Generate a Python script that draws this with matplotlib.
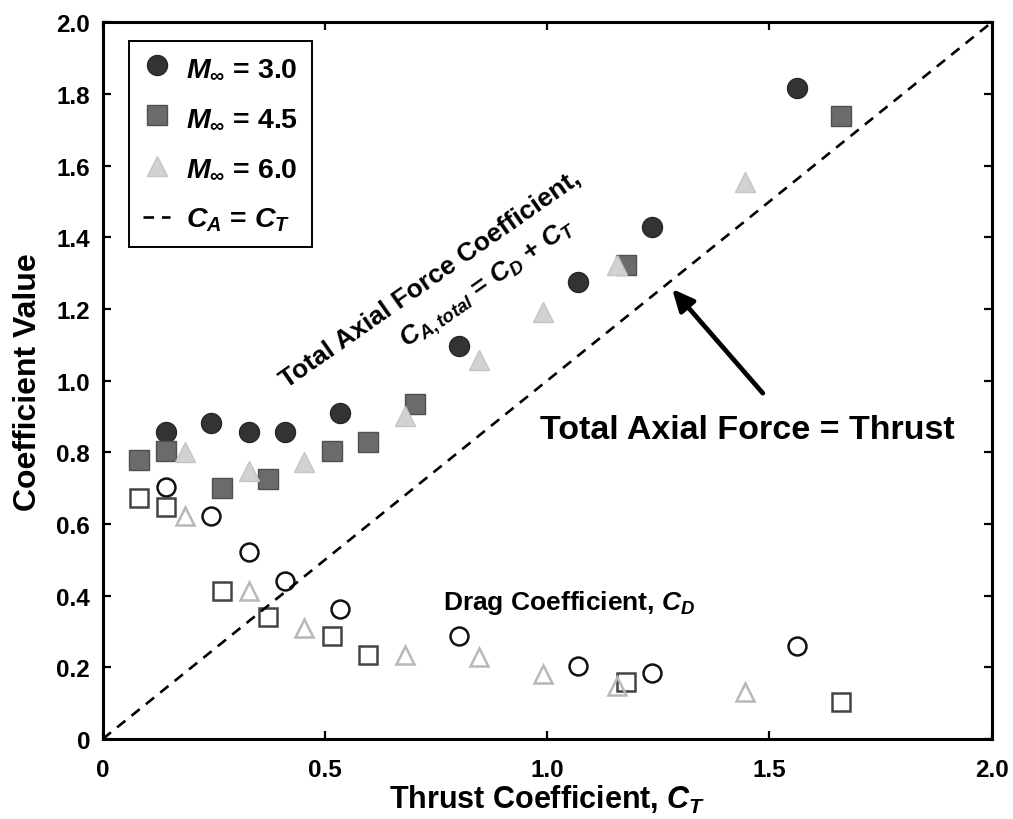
'''
Axial force / drag coefficient versus thrust coefficient
three free stream Mach numbers, filled = total axial force, open = drag
'''
import numpy as np
import matplotlib
matplotlib.use("Agg")
import matplotlib.pyplot as plt

# ---------------- data ----------------
ct_m30   =  [0.142, 0.244, 0.328, 0.410, 0.534, 0.802, 1.070, 1.236, 1.562]
ca_m30   =  [0.856, 0.882, 0.856, 0.856, 0.910, 1.098, 1.275, 1.428, 1.817]
cd_m30   =  [0.703, 0.623, 0.521, 0.442, 0.364, 0.286, 0.205, 0.183, 0.260]

ct_m45   =  [0.082, 0.142, 0.268, 0.371, 0.515, 0.597, 0.703, 1.177, 1.660]
ca_m45   =  [0.779, 0.803, 0.700, 0.726, 0.805, 0.830, 0.935, 1.324, 1.739]
cd_m45   =  [0.673, 0.648, 0.414, 0.340, 0.286, 0.233, np.nan, 0.158, 0.103]

ct_m60   =  [0.185, 0.328, 0.452, 0.679, 0.847, 0.991, 1.156, 1.445]
ca_m60   =  [0.800, 0.749, 0.774, 0.902, 1.058, 1.191, 1.324, 1.555]
cd_m60   =  [0.622, 0.412, 0.309, 0.233, 0.228, 0.181, 0.149, 0.131]

line_ct  =  [0.0, 2.0]

xticks   =  [0, 0.5, 1.0, 1.5, 2.0]
xlabels  =  ['0', '0.5', '1.0', '1.5', '2.0']
yticks   =  [0, 0.2, 0.4, 0.6, 0.8, 1.0, 1.2, 1.4, 1.6, 1.8, 2.0]
ylabels  =  ['0', '0.2', '0.4', '0.6', '0.8', '1.0', '1.2', '1.4', '1.6', '1.8', '2.0']

legend_labels  =  [r'$M_{\infty}$ = 3.0', r'$M_{\infty}$ = 4.5', r'$M_{\infty}$ = 6.0', r'$C_A$ = $C_T$']


def set_fonts():
    plt.rcParams['font.family']       =  ['Liberation Sans', 'DejaVu Sans']
    plt.rcParams['font.weight']       =  'bold'
    plt.rcParams['mathtext.fontset']  =  'custom'
    plt.rcParams['mathtext.rm']       =  'Liberation Sans:bold'
    plt.rcParams['mathtext.it']       =  'Liberation Sans:italic:bold'
    plt.rcParams['mathtext.bf']       =  'Liberation Sans:bold'


def paint():
    set_fonts()

    fig  =  plt.figure(figsize=(10.13, 8.2), dpi=100)
    ax   =  fig.add_axes([0.1014, 0.0976, 0.8776, 0.874])

    ms   =  14.4
    # series styles : (ct, value, marker, face, edge)
    filled  =  [(ct_m30, ca_m30, 'o', '#333333', '#262626'),
                (ct_m45, ca_m45, 's', '#6b6b6b', '#505050'),
                (ct_m60, ca_m60, '^', '#d2d2d2', '#c4c4c4')]
    opened  =  [(ct_m30, cd_m30, 'o', '#111111'),
                (ct_m45, cd_m45, 's', '#444444'),
                (ct_m60, cd_m60, '^', '#b8b8b8')]

    handles = []
    for ct, val, mk, fc, ec in filled:
        h, = ax.plot(ct, val, linestyle='none', marker=mk, markersize=ms,
                     markerfacecolor=fc, markeredgecolor=ec, markeredgewidth=1.0)
        handles.append(h)
    for ct, val, mk, ec in opened:
        ax.plot(ct, val, linestyle='none', marker=mk, markersize=ms - 1.5,
                markerfacecolor='none', markeredgecolor=ec, markeredgewidth=1.8)

    # C_A = C_T line
    h, = ax.plot(line_ct, line_ct, color='k', linewidth=1.9, linestyle=(0, (4, 3)))
    handles.append(h)

    # axis range / ticks
    ax.set_xlim(0, 2.0)
    ax.set_ylim(0, 2.0)
    ax.set_xticks(xticks)
    ax.set_xticklabels(xlabels, fontsize=17.5, fontweight='bold')
    ax.set_yticks(yticks)
    ax.set_yticklabels(ylabels, fontsize=17.5, fontweight='bold')
    ax.tick_params(axis='both', direction='in', length=6, width=1.6,
                   top=True, right=True)
    ax.tick_params(axis='x', pad=14)
    ax.tick_params(axis='y', pad=9)
    for sp in ax.spines.values():
        sp.set_linewidth(2.2)

    ax.set_xlabel(r'Thrust Coefficient, $C_T$', fontsize=22,
                  fontweight='bold', labelpad=1)
    ax.set_ylabel('Coefficient Value', fontsize=23,
                  fontweight='bold', labelpad=10)

    # annotations
    ax.text(0.984, 0.865, 'Total Axial Force = Thrust', fontsize=24.5,
            fontweight='bold', ha='left', va='center')
    ax.annotate('', xy=(1.281, 1.256), xytext=(1.485, 0.965),
                arrowprops=dict(arrowstyle='-|>,head_length=1.3,head_width=0.6',
                                color='k', lw=3.4, shrinkA=0, shrinkB=0))
    ax.text(0.766, 0.382, r'Drag Coefficient, $C_D$', fontsize=19,
            fontweight='bold', ha='left', va='center')

    ax.text(0.737, 1.285, 'Total Axial Force Coefficient,', fontsize=19,
            fontweight='bold', ha='center', va='center', rotation=35,
            rotation_mode='anchor')
    ax.text(0.868, 1.272, r'$C_{A,total}$ = $C_D$ + $C_T$', fontsize=19,
            fontweight='bold', ha='center', va='center', rotation=35,
            rotation_mode='anchor')

    leg  =  ax.legend(handles, legend_labels, loc='upper left',
                      bbox_to_anchor=(0.0296, 0.974), borderaxespad=0,
                      fancybox=False, edgecolor='k', framealpha=1,
                      prop={'size': 20.5, 'weight': 'bold'},
                      handlelength=0.95, handletextpad=0.55, labelspacing=0.85,
                      borderpad=0.5, numpoints=1)
    leg.get_frame().set_linewidth(1.4)

    fig.savefig('out.png', dpi=100)


def main():
    paint()


if __name__ == "__main__":
    main()
